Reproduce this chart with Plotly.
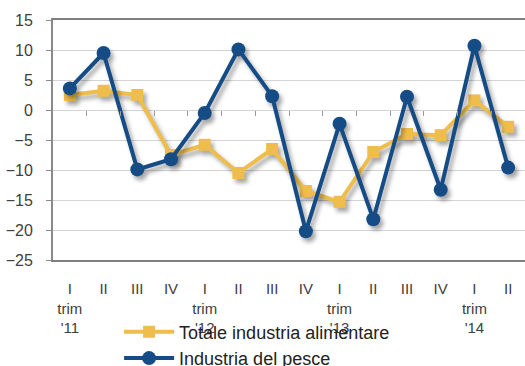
import plotly.graph_objects as go

# Quarterly change (%) by quarter, I 2011 .. II 2014
quarters = ["I<br>trim<br>'11", "II", "III", "IV",
            "I<br>trim<br>'12", "II", "III", "IV",
            "I<br>trim<br>'13", "II", "III", "IV",
            "I<br>trim<br>'14", "II"]
totale_alimentare = [2.5, 3.2, 2.5, -7.5, -5.8, -10.5, -6.5, -13.5, -15.3, -7.0, -4.0, -4.2, 1.6, -2.8]
industria_pesce = [3.6, 9.5, -9.9, -8.2, -0.5, 10.1, 2.3, -20.2, -2.3, -18.2, 2.2, -13.3, 10.7, -9.6]

y_ticks = [15, 10, 5, 0, -5, -10, -15, -20, -25]

YELLOW = "#EFBD4B"
BLUE = "#164C86"
TEXT = "#404040"
FONT = "Liberation Sans, Arial, sans-serif"

x_idx = list(range(len(quarters)))

fig = go.Figure()
fig.add_trace(go.Scatter(
    x=x_idx, y=totale_alimentare, name="Totale industria alimentare",
    mode="lines+markers",
    line=dict(color=YELLOW, width=4),
    marker=dict(symbol="square", size=12, color=YELLOW),
))
fig.add_trace(go.Scatter(
    x=x_idx, y=industria_pesce, name="Industria del pesce",
    mode="lines+markers",
    line=dict(color=BLUE, width=4),
    marker=dict(symbol="circle", size=14, color=BLUE),
))

x_range = [-0.5, len(quarters) - 0.5]
y_range = [-25, 15]

fig.update_layout(
    width=525, height=366,
    margin=dict(l=53, r=0, t=20, b=106, autoexpand=False),
    paper_bgcolor="white", plot_bgcolor="white",
    font=dict(family=FONT, size=15, color=TEXT),
    showlegend=True,
    legend=dict(
        orientation="v", x=0.14, xanchor="left", y=-0.223, yanchor="top",
        font=dict(family=FONT, size=18, color="#222222"),
        tracegroupgap=0, itemwidth=50, bgcolor="rgba(0,0,0,0)",
    ),
    xaxis=dict(
        range=x_range, tickmode="array", tickvals=x_idx, ticktext=quarters,
        showgrid=False, zeroline=False,
        showline=True, mirror=True, linecolor="#7f7f7f", linewidth=2,
        ticks="", ticklabelstandoff=14,
        tickfont=dict(family=FONT, size=15, color=TEXT),
    ),
    # category-boundary tick marks sitting on the zero line
    xaxis2=dict(
        overlaying="x", anchor="free", position=(0 - y_range[0]) / (y_range[1] - y_range[0]),
        range=x_range, tickmode="array",
        tickvals=[i + 0.5 for i in x_idx[:-1]], ticktext=[""] * (len(x_idx) - 1),
        ticks="outside", ticklen=5, tickwidth=1, tickcolor="#9a9a9a",
        showline=False, showgrid=False, zeroline=False, showticklabels=False,
    ),
    yaxis=dict(
        range=y_range, tickmode="array", tickvals=y_ticks,
        showgrid=True, gridcolor="#d4d4d4", gridwidth=1,
        zeroline=False,
        showline=True, linecolor="#8a8a8a", linewidth=2, mirror=False,
        ticks="outside", ticklen=5, tickcolor="#8a8a8a",
        ticklabelposition="outside", ticklabelstandoff=10,
        tickfont=dict(family=FONT, size=16, color=TEXT),
    ),
)

# make xaxis2 render by giving it an invisible trace
fig.add_trace(go.Scatter(x=[x_range[0]], y=[0], xaxis="x2", mode="markers",
                         marker=dict(opacity=0), showlegend=False, hoverinfo="skip"))

shadow_js = """
var gd = document.getElementById('{plot_id}');
gd.querySelectorAll('.scatterlayer .trace').forEach(function(t){
  t.style.filter = 'drop-shadow(3px 4px 2px rgba(0,0,0,0.35))';
});
"""

fig.write_html("out.html", post_script=shadow_js)
